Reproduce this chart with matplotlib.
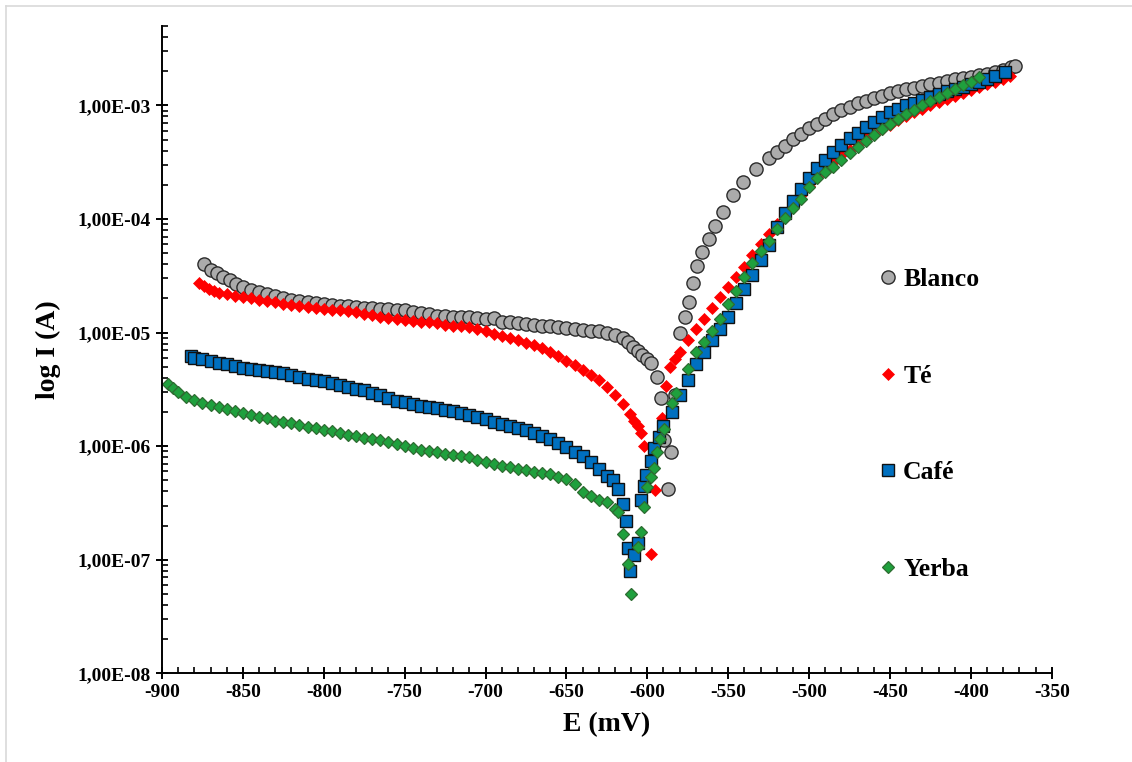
import matplotlib
matplotlib.use("Agg")
import matplotlib.pyplot as plt
import numpy as np
from matplotlib.ticker import FixedLocator, FuncFormatter, MultipleLocator

plt.rcParams['font.family'] = ['Liberation Serif', 'DejaVu Serif']
plt.rcParams['font.weight'] = 'bold'
plt.rcParams['axes.unicode_minus'] = False

# ---- data (E in mV, log10 of I in A) ----
blanco_E = [-874, -870, -866, -862, -858, -854, -850, -845, -840, -835, -830, -825, -820,
            -815, -810, -805, -800, -795, -790, -785, -780, -775, -770, -765, -760, -755,
            -750, -745, -740, -735, -730, -725, -720, -715, -710, -705, -700, -695, -690,
            -685, -680, -675, -670, -665, -660, -655, -650, -645, -640, -635, -630, -625,
            -620, -615, -612, -609, -606, -603, -600, -597.5, -594, -591.5, -589.5, -587.5,
            -585.5, -583, -580, -577, -574, -572, -569, -566, -562, -558, -553.5, -547,
            -541, -533, -525, -520, -515, -510, -505, -500, -495, -490, -485, -480, -475,
            -470, -465, -460, -455, -450, -445, -440, -435, -430, -425, -420, -415, -410,
            -405, -400, -395, -390, -385, -380, -375, -373]
blanco_logI = [-4.40, -4.45, -4.48, -4.51, -4.54, -4.57, -4.60, -4.625, -4.645, -4.665, -4.68,
               -4.695, -4.71, -4.72, -4.73, -4.74, -4.75, -4.755, -4.765, -4.77, -4.775, -4.78,
               -4.785, -4.79, -4.795, -4.80, -4.805, -4.82, -4.83, -4.84, -4.85, -4.855, -4.86,
               -4.865, -4.865, -4.875, -4.88, -4.87, -4.905, -4.91, -4.92, -4.925, -4.93, -4.94,
               -4.945, -4.955, -4.96, -4.965, -4.975, -4.985, -4.99, -5.00, -5.02, -5.05, -5.08,
               -5.13, -5.16, -5.20, -5.23, -5.27, -5.39, -5.58, -5.95, -6.38, -6.05, -5.55,
               -5.00, -4.86, -4.73, -4.56, -4.41, -4.29, -4.175, -4.06, -3.94, -3.79, -3.675,
               -3.56, -3.46, -3.41, -3.36, -3.30, -3.25, -3.20, -3.16, -3.12, -3.08, -3.04,
               -3.01, -2.98, -2.96, -2.935, -2.915, -2.895, -2.875, -2.86, -2.845, -2.83,
               -2.815, -2.80, -2.785, -2.77, -2.76, -2.75, -2.735, -2.72, -2.705, -2.685,
               -2.665, -2.65]

te_E = [-877, -874, -871, -868, -865, -860, -855, -850, -845, -840, -835, -830, -825, -820,
        -815, -810, -805, -800, -795, -790, -785, -780, -775, -770, -765, -760, -755, -750,
        -745, -740, -735, -730, -725, -720, -715, -710, -705, -700, -695, -690, -685, -680,
        -675, -670, -665, -660, -655, -650, -645, -640, -635, -630, -625, -620, -615, -611,
        -608, -606, -604, -602, -598, -595, -591, -588.5, -586, -583, -580, -575, -570,
        -565, -560, -555, -550, -545, -540, -535, -530, -525, -520, -515, -510, -505, -500,
        -495, -490, -485, -480, -475, -470, -465, -460, -455, -450, -445, -440, -435, -430,
        -425, -420, -415, -410, -405, -400, -395, -390, -385, -380, -376]
te_logI = [-4.56, -4.59, -4.615, -4.635, -4.65, -4.665, -4.68, -4.69, -4.70, -4.715, -4.725,
           -4.735, -4.745, -4.755, -4.765, -4.775, -4.785, -4.79, -4.80, -4.805, -4.81, -4.82,
           -4.835, -4.845, -4.86, -4.87, -4.88, -4.89, -4.895, -4.905, -4.91, -4.92, -4.93,
           -4.94, -4.945, -4.955, -4.97, -4.99, -5.01, -5.03, -5.05, -5.07, -5.09, -5.11,
           -5.14, -5.17, -5.21, -5.25, -5.29, -5.33, -5.37, -5.42, -5.48, -5.55, -5.63, -5.72,
           -5.78, -5.82, -5.88, -6.00, -6.95, -6.39, -5.75, -5.47, -5.30, -5.23, -5.17, -5.07,
           -4.97, -4.88, -4.78, -4.69, -4.60, -4.51, -4.42, -4.32, -4.22, -4.13, -4.04, -3.95,
           -3.87, -3.79, -3.71, -3.63, -3.56, -3.50, -3.44, -3.39, -3.34, -3.29, -3.25, -3.21,
           -3.17, -3.13, -3.09, -3.06, -3.03, -3.00, -2.97, -2.94, -2.915, -2.89, -2.865,
           -2.84, -2.815, -2.79, -2.765, -2.74]

cafe_E = [-882, -880, -875, -870, -865, -860, -855, -850, -845, -840, -835, -830, -825, -820,
          -815, -810, -805, -800, -795, -790, -785, -780, -775, -770, -765, -760, -755, -750,
          -745, -740, -735, -730, -725, -720, -715, -710, -705, -700, -695, -690, -685, -680,
          -675, -670, -665, -660, -655, -650, -645, -640, -635, -630, -625, -621, -618, -615,
          -613, -612, -611, -608, -606, -604, -602, -601, -598, -596, -593, -590, -585, -580,
          -575, -570, -565, -560, -555, -550, -545, -540, -535, -530, -525, -520, -515, -510,
          -505, -500, -495, -490, -485, -480, -475, -470, -465, -460, -455, -450, -445, -440,
          -435, -430, -425, -420, -415, -410, -405, -400, -395, -390, -385, -379]
cafe_logI = [-5.21, -5.22, -5.235, -5.25, -5.265, -5.28, -5.295, -5.31, -5.32, -5.33, -5.34,
             -5.35, -5.36, -5.375, -5.39, -5.405, -5.42, -5.43, -5.445, -5.46, -5.48, -5.495,
             -5.51, -5.53, -5.55, -5.575, -5.60, -5.615, -5.63, -5.645, -5.655, -5.665, -5.68,
             -5.695, -5.71, -5.725, -5.745, -5.765, -5.785, -5.805, -5.82, -5.84, -5.86, -5.88,
             -5.91, -5.94, -5.97, -6.01, -6.05, -6.09, -6.14, -6.20, -6.26, -6.30, -6.38, -6.51,
             -6.66, -6.90, -7.10, -6.96, -6.85, -6.47, -6.35, -6.25, -6.13, -6.02, -5.92, -5.82,
             -5.70, -5.55, -5.42, -5.28, -5.17, -5.07, -4.97, -4.86, -4.74, -4.62, -4.49, -4.36,
             -4.23, -4.07, -3.95, -3.84, -3.74, -3.64, -3.55, -3.48, -3.41, -3.35, -3.29, -3.24,
             -3.19, -3.145, -3.10, -3.06, -3.03, -3.00, -2.975, -2.95, -2.925, -2.90, -2.875,
             -2.855, -2.835, -2.81, -2.79, -2.77, -2.745, -2.71]

yerba_E = [-896, -893, -890, -885, -880, -875, -870, -865, -860, -855, -850, -845, -840, -835,
           -830, -825, -820, -815, -810, -805, -800, -795, -790, -785, -780, -775, -770, -765,
           -760, -755, -750, -745, -740, -735, -730, -725, -720, -715, -710, -705, -700, -695,
           -690, -685, -680, -675, -670, -665, -660, -655, -650, -645, -640, -635, -630, -625,
           -620, -618, -615, -612, -610, -606, -604, -602, -600, -598, -596, -594, -592,
           -589.5, -585, -582, -575, -570, -565, -560, -555, -550, -545, -540, -535, -530,
           -525, -520, -515, -510, -505, -500, -495, -490, -485, -480, -475, -470, -465, -460,
           -455, -450, -445, -440, -435, -430, -425, -420, -415, -410, -405, -400, -395]
yerba_logI = [-5.45, -5.49, -5.52, -5.565, -5.595, -5.62, -5.64, -5.655, -5.675, -5.69, -5.71,
              -5.725, -5.74, -5.755, -5.775, -5.79, -5.80, -5.815, -5.83, -5.84, -5.855, -5.87,
              -5.88, -5.90, -5.91, -5.925, -5.935, -5.95, -5.965, -5.98, -6.00, -6.02, -6.03,
              -6.045, -6.055, -6.065, -6.075, -6.085, -6.10, -6.12, -6.14, -6.16, -6.175,
              -6.185, -6.20, -6.21, -6.225, -6.235, -6.245, -6.27, -6.29, -6.33, -6.40, -6.44,
              -6.47, -6.49, -6.55, -6.58, -6.77, -7.04, -7.30, -6.89, -6.76, -6.54, -6.36,
              -6.27, -6.19, -6.05, -5.94, -5.85, -5.62, -5.53, -5.32, -5.17, -5.08, -4.99,
              -4.88, -4.75, -4.63, -4.51, -4.39, -4.28, -4.19, -4.09, -3.99, -3.90, -3.82,
              -3.72, -3.64, -3.59, -3.54, -3.48, -3.42, -3.37, -3.31, -3.26, -3.21, -3.16,
              -3.12, -3.08, -3.04, -3.00, -2.96, -2.93, -2.89, -2.86, -2.82, -2.79, -2.75]

series = [
    ("Blanco", blanco_E, blanco_logI, dict(marker='o', ms=9.5, mfc='#ABABAB', mec='#2B2B2B', mew=1.0)),
    ("Té", te_E, te_logI, dict(marker='D', ms=6.3, mfc='#FF0000', mec='#FF0000', mew=0.5)),
    ("Café", cafe_E, cafe_logI, dict(marker='s', ms=8.5, mfc='#0070C0', mec='#111111', mew=1.0)),
    ("Yerba", yerba_E, yerba_logI, dict(marker='D', ms=6.3, mfc='#1FA03D', mec='#2E6B31', mew=0.9)),
]

fig = plt.figure(figsize=(11.32, 7.62), dpi=100)
ax = fig.add_axes([0.1431, 0.1164, 0.786, 0.8495])

for name, e, li, st in series:
    ax.plot(e, 10 ** np.array(li), linestyle='none', label=name, **st)

ax.set_yscale('log')
ax.set_xlim(-900, -350)
ax.set_ylim(1e-8, 5e-3)

ax.xaxis.set_major_locator(MultipleLocator(50))
ax.xaxis.set_minor_locator(MultipleLocator(10))
ax.yaxis.set_major_locator(FixedLocator([1e-8, 1e-7, 1e-6, 1e-5, 1e-4, 1e-3]))
ax.yaxis.set_minor_locator(FixedLocator([m * 10.0 ** k for k in range(-8, -2) for m in range(2, 10)]))
ax.yaxis.set_major_formatter(FuncFormatter(lambda v, p: "1,00E-%02d" % round(-np.log10(v))))
ax.yaxis.set_minor_formatter(FuncFormatter(lambda v, p: ""))
ax.xaxis.set_major_formatter(FuncFormatter(lambda v, p: "%d" % v))

for s in ['top', 'right']:
    ax.spines[s].set_visible(False)
for s in ['left', 'bottom']:
    ax.spines[s].set_linewidth(1.4)

ax.tick_params(which='major', direction='inout', length=8, width=1.4, labelsize=14, pad=4)
ax.tick_params(which='minor', direction='in', length=4, width=1.2)
for lab in ax.get_xticklabels() + ax.get_yticklabels():
    lab.set_fontweight('bold')

ax.set_xlabel('E (mV)', fontsize=20, fontweight='bold', labelpad=8)
ax.set_ylabel('log I (A)', fontsize=20, fontweight='bold', labelpad=12)

ax.legend(loc='upper left', bbox_to_anchor=(878 / 1132, 1 - 268 / 762), bbox_transform=fig.transFigure,
          frameon=False, prop={'size': 18.5, 'weight': 'bold'}, handlelength=0.8,
          handletextpad=0.18, labelspacing=2.87, borderpad=0, borderaxespad=0, numpoints=1)

# light chart border like the spreadsheet frame
fig.add_artist(plt.Line2D([6 / 1132, 1], [1 - 6 / 762, 1 - 6 / 762], transform=fig.transFigure,
                          color='#D9D9D9', lw=1.2))
fig.add_artist(plt.Line2D([6 / 1132, 6 / 1132], [0, 1 - 6 / 762], transform=fig.transFigure,
                          color='#D9D9D9', lw=1.2))

fig.savefig('out.png', dpi=100)
